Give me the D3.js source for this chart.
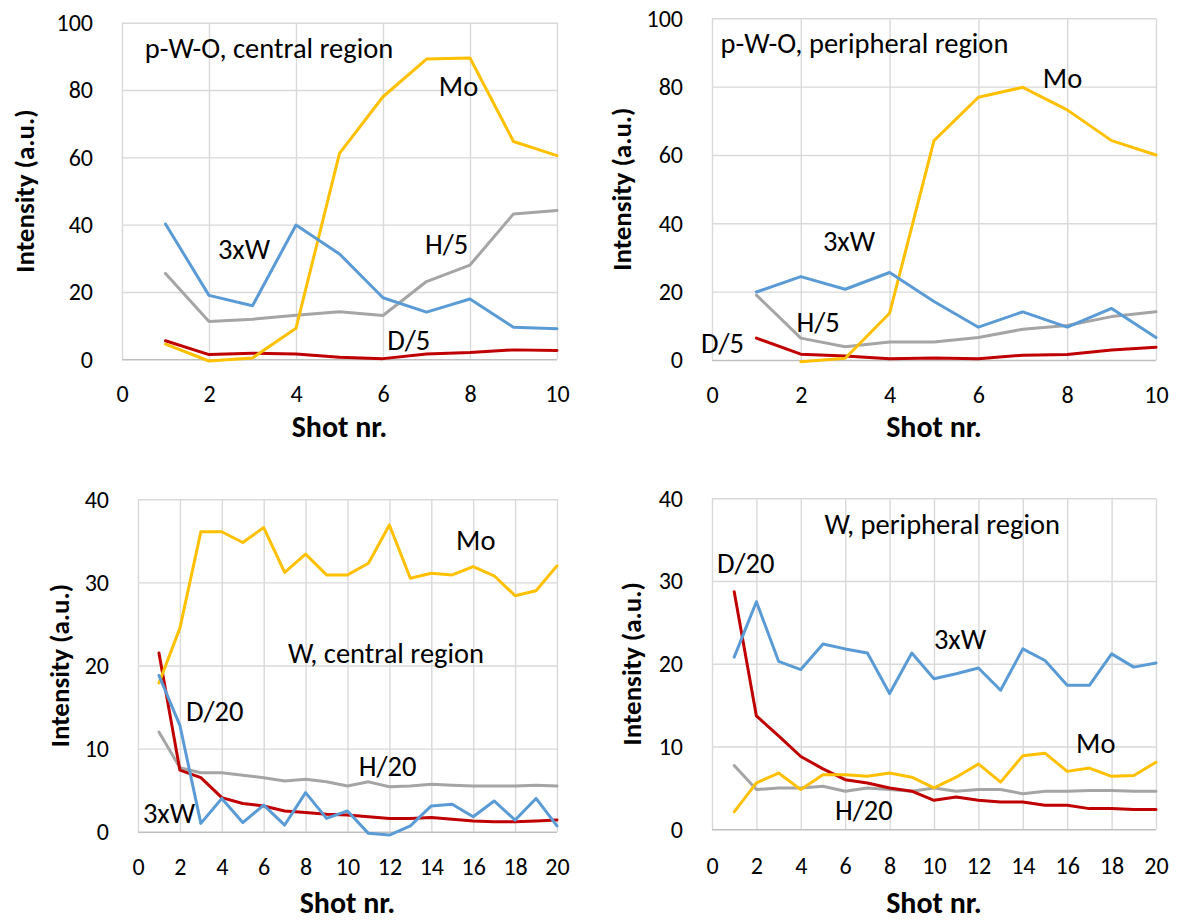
<!DOCTYPE html>
<html>
<head>
<meta charset="utf-8">
<script src="https://cdn.jsdelivr.net/npm/d3@7"></script>
<style>
  html, body { margin: 0; padding: 0; background: #fff; }
  svg text { font-family: Carlito, Calibri, Lato, sans-serif; fill: #000; }
</style>
</head>
<body>
<div id="chart"></div>
<script>
// shot numbers
const shots10 = [1, 2, 3, 4, 5, 6, 7, 8, 9, 10];
const shots20 = d3.range(1, 21);

// p-W-O, central region
const pwoCentralMo = [4.5, -0.5, 0.4, 9.2, 61.2, 78, 89.2, 89.5, 64.7, 60.5];
const pwoCentralW  = [40.2, 19, 15.9, 39.9, 31.3, 18.3, 14, 17.9, 9.5, 9.1];
const pwoCentralH  = [25.5, 11.2, 11.9, 13.1, 14.1, 13, 23.1, 28, 43.2, 44.2];
const pwoCentralD  = [5.5, 1.4, 1.8, 1.6, 0.6, 0.2, 1.6, 2, 2.8, 2.6];

// p-W-O, peripheral region (Mo has no value at shot 1)
const pwoPeriphMo = [null, -0.5, 0.5, 13.7, 64.2, 76.9, 79.8, 73.2, 64.2, 60];
const pwoPeriphW  = [19.9, 24.4, 20.7, 25.6, 17.1, 9.6, 14.1, 9.6, 15.1, 6.6];
const pwoPeriphH  = [19, 6.4, 3.9, 5.3, 5.3, 6.6, 9, 10.1, 12.7, 14.1];
const pwoPeriphD  = [6.4, 1.7, 1.2, 0.4, 0.6, 0.4, 1.4, 1.6, 2.9, 3.7];

// W, central region
const wCentralMo = [17.9, 24.5, 36.1, 36.1, 34.8, 36.6, 31.2, 33.4, 30.9, 30.9,
                    32.3, 36.9, 30.5, 31.1, 30.9, 31.9, 30.8, 28.4, 29, 32];
const wCentralW  = [18.8, 12.8, 1, 4, 1.1, 3.2, 0.8, 4.7, 1.6, 2.5,
                    -0.2, -0.4, 0.7, 3.1, 3.3, 1.8, 3.7, 1.4, 4, 0.7];
const wCentralH  = [12, 7.7, 7.1, 7.1, 6.8, 6.5, 6.1, 6.3, 6, 5.5,
                    6, 5.4, 5.5, 5.7, 5.6, 5.5, 5.5, 5.5, 5.6, 5.5];
const wCentralD  = [21.5, 7.4, 6.5, 4.1, 3.4, 3.1, 2.5, 2.3, 2.1, 2,
                    1.8, 1.6, 1.6, 1.7, 1.5, 1.3, 1.2, 1.2, 1.3, 1.4];

// W, peripheral region
const wPeriphMo = [2.1, 5.6, 6.8, 4.8, 6.6, 6.6, 6.4, 6.8, 6.3, 5,
                   6.3, 7.9, 5.7, 8.9, 9.2, 7, 7.4, 6.4, 6.5, 8.1];
const wPeriphW  = [20.8, 27.5, 20.3, 19.3, 22.4, 21.8, 21.3, 16.4, 21.3, 18.2,
                   18.8, 19.5, 16.8, 21.8, 20.4, 17.4, 17.4, 21.2, 19.6, 20.1];
const wPeriphH  = [7.7, 4.8, 5, 5, 5.2, 4.6, 5, 4.8, 4.6, 5,
                   4.6, 4.8, 4.8, 4.3, 4.6, 4.6, 4.7, 4.7, 4.6, 4.6];
const wPeriphD  = [28.7, 13.7, 11.3, 8.8, 7.3, 6, 5.6, 5, 4.6, 3.5,
                   3.9, 3.5, 3.3, 3.3, 2.9, 2.9, 2.5, 2.5, 2.4, 2.4];

const yTicks100 = [0, 20, 40, 60, 80, 100];
const yTicks40 = [0, 10, 20, 30, 40];
const xTicks10 = [0, 2, 4, 6, 8, 10];
const xTicks20 = d3.range(0, 21, 2);

const COLORS = { Mo: '#FFC000', W: '#5B9BD5', H: '#A5A5A5', D: '#C00000' };
const FONT = 'Carlito, Calibri, Lato, sans-serif';

const width = 1180, height = 922;
const svg = d3.select('#chart').append('svg')
  .attr('width', width)
  .attr('height', height)
  .attr('viewBox', `0 0 ${width} ${height}`);

function drawPanel(p) {
  const x = d3.scaleLinear().domain([0, p.xMax]).range([p.left, p.right]);
  const y = d3.scaleLinear().domain([0, p.yMax]).range([p.bottom, p.top]);
  const g = svg.append('g');

  // grid
  g.append('g')
    .attr('transform', `translate(0,${p.bottom})`)
    .call(d3.axisBottom(x).tickValues(p.xTicks).tickSize(-(p.bottom - p.top)).tickFormat(''))
    .call(a => a.select('.domain').remove())
    .call(a => a.selectAll('line').attr('stroke', '#D9D9D9').attr('stroke-width', 1.4));
  g.append('g')
    .attr('transform', `translate(${p.left},0)`)
    .call(d3.axisLeft(y).tickValues(p.yTicks).tickSize(-(p.right - p.left)).tickFormat(''))
    .call(a => a.select('.domain').remove())
    .call(a => a.selectAll('line').attr('stroke', d => d === 0 ? '#BFBFBF' : '#D9D9D9').attr('stroke-width', 1.4));

  // tick labels
  g.append('g')
    .attr('transform', `translate(${p.left - 29},0)`)
    .call(d3.axisLeft(y).tickValues(p.yTicks).tickSize(0).tickPadding(0))
    .call(a => a.select('.domain').remove())
    .call(a => a.selectAll('text').attr('font-size', 24).attr('text-anchor', 'end')
      .attr('font-family', FONT).attr('dy', '0.33em'));
  g.append('g')
    .attr('transform', `translate(0,${p.bottom + p.xTickGap})`)
    .call(d3.axisBottom(x).tickValues(p.xTicks).tickSize(0).tickPadding(0))
    .call(a => a.select('.domain').remove())
    .call(a => a.selectAll('text').attr('font-size', 24).attr('dy', '0')
      .attr('font-family', FONT));

  // axis titles
  g.append('text')
    .attr('x', (p.left + p.right) / 2)
    .attr('y', p.xTitleY)
    .attr('text-anchor', 'middle')
    .attr('font-size', 30)
    .attr('font-weight', 'bold')
    .text('Shot nr.');
  g.append('text')
    .attr('transform', `translate(${p.yTitleX},${(p.top + p.bottom) / 2}) rotate(-90)`)
    .attr('text-anchor', 'middle')
    .attr('font-size', 27)
    .attr('font-weight', 'bold')
    .text('Intensity (a.u.)');

  // series
  const line = d3.line()
    .defined(d => d[1] != null)
    .x(d => x(d[0]))
    .y(d => y(d[1]));
  p.series.forEach(s => {
    g.append('path')
      .datum(p.shots.map((sh, i) => [sh, s.values[i]]))
      .attr('d', line)
      .attr('fill', 'none')
      .attr('stroke', COLORS[s.key])
      .attr('stroke-width', 3)
      .attr('stroke-linejoin', 'round')
      .attr('stroke-linecap', 'round');
  });

  // in-plot labels
  p.labels.forEach(l => {
    g.append('text')
      .attr('x', p.left + l[1])
      .attr('y', p.top + l[2])
      .attr('text-anchor', 'middle')
      .attr('font-size', 28.5)
      .text(l[0]);
  });
}

drawPanel({
  left: 122, right: 557, top: 22.7, bottom: 359.3,
  xMax: 10, yMax: 100, xTicks: xTicks10, yTicks: yTicks100, shots: shots10,
  xTickGap: 43, xTitleY: 437, yTitleX: 34,
  series: [
    { key: 'H', values: pwoCentralH },
    { key: 'D', values: pwoCentralD },
    { key: 'Mo', values: pwoCentralMo },
    { key: 'W', values: pwoCentralW }
  ],
  labels: [
    ['p-W-O, central region', 147, 35.6],
    ['Mo', 336.5, 73.3],
    ['3xW', 122, 236.6],
    ['H/5', 324.5, 231.3],
    ['D/5', 286.8, 327.3]
  ]
});

drawPanel({
  left: 712, right: 1156, top: 18.3, bottom: 360,
  xMax: 10, yMax: 100, xTicks: xTicks10, yTicks: yTicks100, shots: shots10,
  xTickGap: 43, xTitleY: 437, yTitleX: 631,
  series: [
    { key: 'H', values: pwoPeriphH },
    { key: 'D', values: pwoPeriphD },
    { key: 'Mo', values: pwoPeriphMo },
    { key: 'W', values: pwoPeriphW }
  ],
  labels: [
    ['p-W-O, peripheral region', 152.5, 34.4],
    ['Mo', 350.5, 69.7],
    ['3xW', 137, 232.7],
    ['H/5', 106, 313.7],
    ['D/5', 10.5, 334.7]
  ]
});

drawPanel({
  left: 138, right: 557, top: 499.3, bottom: 831.7,
  xMax: 20, yMax: 40, xTicks: xTicks20, yTicks: yTicks40, shots: shots20,
  xTickGap: 43, xTitleY: 913, yTitleX: 69,
  series: [
    { key: 'H', values: wCentralH },
    { key: 'D', values: wCentralD },
    { key: 'Mo', values: wCentralMo },
    { key: 'W', values: wCentralW }
  ],
  labels: [
    ['Mo', 337.8, 50.7],
    ['W, central region', 248, 163.4],
    ['D/20', 76.7, 221.4],
    ['H/20', 249.7, 276.7],
    ['3xW', 31, 323.7]
  ]
});

drawPanel({
  left: 712, right: 1156, top: 498.3, bottom: 829.3,
  xMax: 20, yMax: 40, xTicks: xTicks20, yTicks: yTicks40, shots: shots20,
  xTickGap: 45, xTitleY: 913, yTitleX: 641,
  series: [
    { key: 'H', values: wPeriphH },
    { key: 'D', values: wPeriphD },
    { key: 'Mo', values: wPeriphMo },
    { key: 'W', values: wPeriphW }
  ],
  labels: [
    ['W, peripheral region', 230.3, 35.7],
    ['D/20', 33.8, 74.7],
    ['3xW', 248, 150.7],
    ['Mo', 383.8, 254.4],
    ['H/20', 151.8, 321.7]
  ]
});
</script>
</body>
</html>
